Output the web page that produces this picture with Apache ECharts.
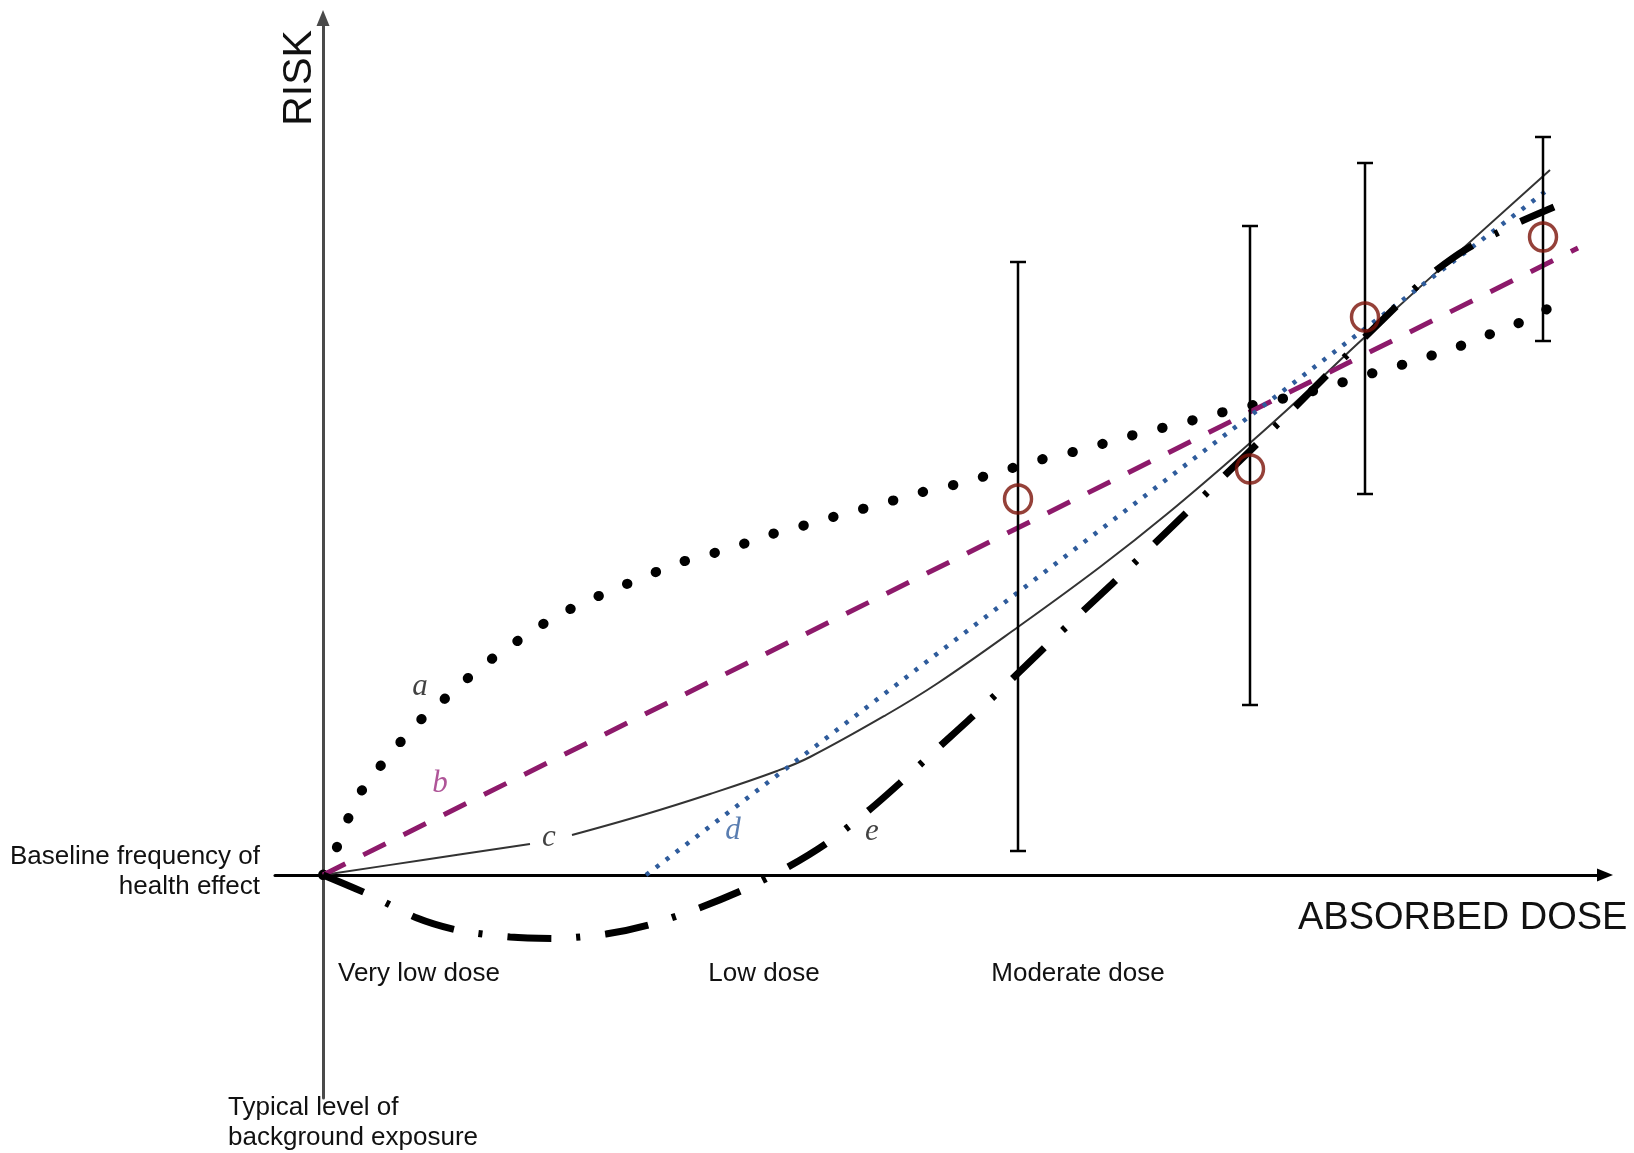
<!DOCTYPE html>
<html>
<head>
<meta charset="utf-8">
<script src="https://cdn.jsdelivr.net/npm/echarts@6/dist/echarts.min.js"></script>
<style>
  html, body { margin: 0; padding: 0; background: #fff; }
  #chart { width: 1634px; height: 1153px; }
</style>
</head>
<body>
<div id="chart"></div>
<script>
// ---- data (dose, risk) in arbitrary units; origin = background exposure / baseline ----
const curveA = [[0,0],[0.14,0.28],[0.25,0.56],[0.37,0.82],[0.55,1.06],[0.74,1.29],[0.94,1.52],[1.16,1.71],[1.39,1.92],[1.63,2.12],[1.87,2.29],[2.15,2.48],[2.41,2.63],[2.71,2.77],[2.99,2.89],[3.28,3.01],[3.58,3.13],[3.88,3.21],[4.20,3.31],[4.49,3.41],[4.79,3.49],[5.10,3.58],[5.43,3.67],[5.72,3.75],[6.03,3.84],[6.35,3.91],[6.66,4.00],[6.96,4.09],[7.27,4.18],[7.59,4.25],[7.89,4.34],[8.21,4.43],[8.52,4.50],[8.82,4.58],[9.15,4.67],[9.45,4.73],[9.76,4.80],[10.08,4.89],[10.39,4.99],[10.69,5.07],[10.97,5.16],[11.30,5.26],[11.59,5.38],[11.90,5.49],[12.17,5.63],[12.47,5.75]];
const curveB = [[0,0],[12.55,6.27]];
const curveC = [[0,0],[1.0,0.15],[2.07,0.31],null,[2.49,0.40],[3.2,0.60],[3.87,0.81],[4.54,1.04],[4.87,1.18],[5.63,1.60],[6.15,1.92],[6.95,2.48],[7.77,3.08],[8.44,3.61],[9.27,4.32],[9.77,4.77],[10.43,5.39],[12.27,7.05]];
const curveD = [[3.23,0],[12.27,6.87]];
const curveE = [[0,0],[0.47,-0.20],[0.94,-0.43],[1.34,-0.55],[1.87,-0.62],[2.32,-0.635],[2.83,-0.59],[3.26,-0.50],[3.76,-0.33],[4.20,-0.15],[4.65,0.08],[5.04,0.32],[5.45,0.64],[5.77,0.92],[6.15,1.27],[6.49,1.58],[6.87,1.94],[7.18,2.24],[7.59,2.63],[7.89,2.91],[8.29,3.29],[8.60,3.59],[8.97,3.95],[9.32,4.29],[9.67,4.63],[9.99,4.95],[10.42,5.38],[10.85,5.80],[11.07,6.00],[11.42,6.25],[11.90,6.50],[12.31,6.68]];

// observed data points with uncertainty
const errX    = [6.95, 9.27, 10.42, 12.20];
const errMid  = [3.76, 4.06, 5.58, 6.38];
const errLow  = [0.24, 1.70, 3.81, 5.34];
const errHigh = [6.13, 6.49, 7.12, 7.38];

// curve labels
const curveNames = ['a', 'b', 'c', 'd', 'e'];
const curveLabelPos = [[0.97, 1.88], [1.17, 0.91], [2.26, 0.37], [4.10, 0.44], [5.49, 0.43]];
const curveColors = ['#111111', '#9b2a7e', '#111111', '#2f5c9c', '#111111'];

// annotation texts
const xTitle = 'ABSORBED DOSE';
const yTitle = 'RISK';
const baselineText = 'Baseline frequency of\nhealth effect';
const backgroundText = 'Typical level of\nbackground exposure';
const doseBands = ['Very low dose', 'Low dose', 'Moderate dose'];

// ---- helpers ----
function splitOnNull(arr) {
  const parts = [[]];
  arr.forEach(p => { if (p === null) parts.push([]); else parts[parts.length - 1].push(p); });
  return parts;
}

const chart = echarts.init(document.getElementById('chart'), null, { renderer: 'canvas' });
const SANS = '"Liberation Sans", Arial, Helvetica, sans-serif';
const SERIF = '"Liberation Serif", "Times New Roman", serif';

const series = [];

series.push({
  name: 'a', type: 'line', data: curveA, showSymbol: false, smooth: false, z: 3,
  lineStyle: { color: '#000', width: 10, type: [0.5, 30.5], cap: 'round' }
});
series.push({
  name: 'b', type: 'line', data: curveB, showSymbol: false, z: 3,
  lineStyle: { color: '#8d1a6b', width: 5, type: [25, 20], cap: 'butt' }
});
splitOnNull(curveC).forEach((seg, i) => {
  series.push({
    name: 'c' + i, type: 'line', data: seg, showSymbol: false, smooth: 0.4, z: 2,
    lineStyle: { color: '#333333', width: 2 }
  });
});
series.push({
  name: 'd', type: 'line', data: curveD, showSymbol: false, z: 3,
  lineStyle: { color: '#2f5c9c', width: 4.5, type: [4, 8.5], cap: 'butt' }
});
series.push({
  name: 'e', type: 'line', data: curveE, showSymbol: false, smooth: 0.25, z: 4,
  lineStyle: { color: '#000', width: 7, type: [44, 25, 4, 25], cap: 'butt' }
});

// error bars
series.push({
  name: 'errorbars', type: 'custom', z: 5,
  data: errX.map((x, i) => [x, errLow[i], errHigh[i]]),
  encode: { x: 0, y: [1, 2] },
  renderItem: function (params, api) {
    const x = api.value(0);
    const top = api.coord([x, api.value(2)]);
    const bot = api.coord([x, api.value(1)]);
    const w = 8;
    const st = { stroke: '#000', lineWidth: 2.5 };
    return {
      type: 'group',
      children: [
        { type: 'line', shape: { x1: top[0], y1: top[1], x2: bot[0], y2: bot[1] }, style: st },
        { type: 'line', shape: { x1: top[0] - w, y1: top[1], x2: top[0] + w, y2: top[1] }, style: st },
        { type: 'line', shape: { x1: bot[0] - w, y1: bot[1], x2: bot[0] + w, y2: bot[1] }, style: st }
      ]
    };
  }
});

// observed central estimates (open circles)
series.push({
  name: 'observed', type: 'scatter', z: 6,
  data: errX.map((x, i) => [x, errMid[i]]),
  symbol: 'circle', symbolSize: [27, 28],
  itemStyle: { color: 'rgba(0,0,0,0)', borderColor: '#7a1208', borderWidth: 3.5 }
});

// curve labels
series.push({
  name: 'labels', type: 'scatter', z: 7, symbolSize: 0, silent: true,
  data: curveNames.map((n, i) => ({
    value: curveLabelPos[i], name: n,
    label: { color: curveColors[i] }
  })),
  label: {
    show: true, position: 'inside', formatter: '{b}',
    fontFamily: SERIF, fontStyle: 'italic', fontSize: 31
  }
});

const textStyle = (extra) => Object.assign({ fill: '#111', fontFamily: SANS, fontSize: 26 }, extra);

chart.setOption({
  animation: false,
  backgroundColor: '#fff',
  grid: { left: 275, right: 29, top: 18, bottom: 55 },
  xAxis: {
    type: 'value', min: -0.48, max: 12.82,
    axisLine: { show: true, onZero: true, symbol: ['none', 'triangle'], symbolSize: [13, 16],
      lineStyle: { color: '#000', width: 3 } },
    axisTick: { show: false }, axisLabel: { show: false }, splitLine: { show: false }
  },
  yAxis: {
    type: 'value', min: -2.23, max: 8.57,
    axisLine: { show: true, onZero: true, symbol: ['none', 'triangle'], symbolSize: [13, 16],
      lineStyle: { color: '#4a4a4a', width: 3 } },
    axisTick: { show: false }, axisLabel: { show: false }, splitLine: { show: false }
  },
  series: series,
  graphic: [
    { type: 'text', x: 300, y: 78, rotation: Math.PI / 2,
      style: textStyle({ text: yTitle, fontSize: 41, align: 'center', verticalAlign: 'middle' }) },
    { type: 'text', x: 1298, y: 919,
      style: textStyle({ text: xTitle, fontSize: 38, align: 'left', verticalAlign: 'middle' }) },
    { type: 'text', x: 260, y: 872,
      style: textStyle({ text: baselineText, align: 'right', verticalAlign: 'middle', lineHeight: 30 }) },
    { type: 'text', x: 228, y: 1123,
      style: textStyle({ text: backgroundText, align: 'left', verticalAlign: 'middle', lineHeight: 30 }) },
    { type: 'text', x: 338, y: 974,
      style: textStyle({ text: doseBands[0], align: 'left', verticalAlign: 'middle' }) },
    { type: 'text', x: 764, y: 974,
      style: textStyle({ text: doseBands[1], align: 'center', verticalAlign: 'middle' }) },
    { type: 'text', x: 1078, y: 974,
      style: textStyle({ text: doseBands[2], align: 'center', verticalAlign: 'middle' }) }
  ]
});
</script>
</body>
</html>
